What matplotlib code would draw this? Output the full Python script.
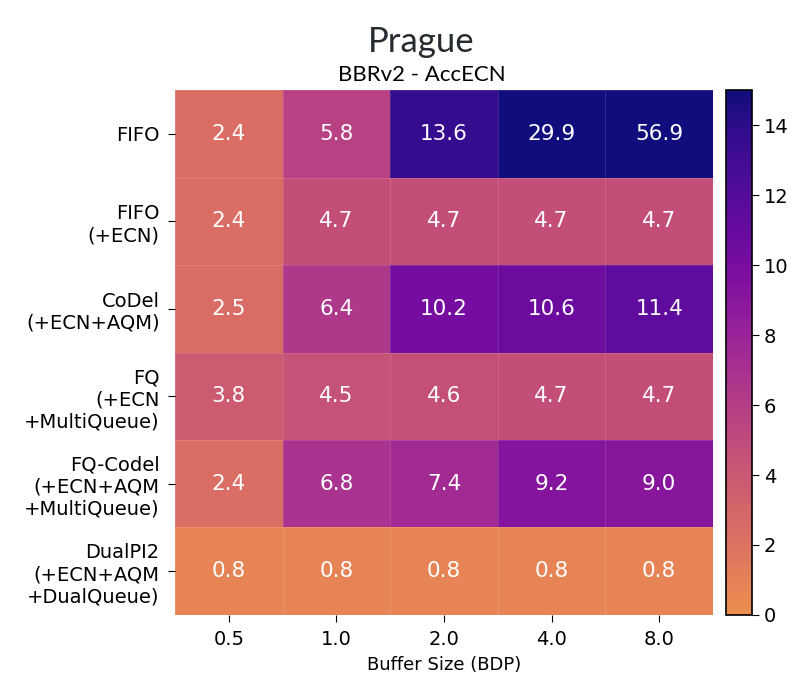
import numpy as np
import matplotlib
matplotlib.use('Agg')
import matplotlib.pyplot as plt
from matplotlib.colors import ListedColormap

plt.rcParams['font.family'] = 'DejaVu Sans'

# datos del heatmap
queues = ['FIFO', 'FIFO\n(+ECN)', 'CoDel\n(+ECN+AQM)', 'FQ\n(+ECN\n+MultiQueue)',
          'FQ-Codel\n(+ECN+AQM\n+MultiQueue)', 'DualPI2\n(+ECN+AQM\n+DualQueue)']
buffers = ['0.5', '1.0', '2.0', '4.0', '8.0']

fifo = [2.4, 5.8, 13.6, 29.9, 56.9]
fifo_ecn = [2.4, 4.7, 4.7, 4.7, 4.7]
codel = [2.5, 6.4, 10.2, 10.6, 11.4]
fq = [3.8, 4.5, 4.6, 4.7, 4.7]
fq_codel = [2.4, 6.8, 7.4, 9.2, 9.0]
dualpi2 = [0.8, 0.8, 0.8, 0.8, 0.8]

values = np.array([fifo, fifo_ecn, codel, fq, fq_codel, dualpi2])

# colormap: plasma recortado e invertido
base = plt.cm.plasma(np.linspace(0.0, 0.73, 256))[::-1]
gray = base[:, :3].mean(axis=1, keepdims=True)
base[:, :3] = base[:, :3] * 0.88 + gray * 0.12
cmap = ListedColormap(base)

fig = plt.figure(figsize=(7.97, 6.8), dpi=100)
ax = fig.add_axes([0.2196, 0.0956, 0.675, 0.772])
cax = fig.add_axes([0.911, 0.0956, 0.0326, 0.772])

mesh = ax.pcolormesh(values, cmap=cmap, vmin=0, vmax=15,
                     edgecolors=(1, 1, 1, 0.12), linewidth=0.6)
ax.set_xlim(0, len(buffers))
ax.set_ylim(len(queues), 0)

for i in range(len(queues)):
    for j in range(len(buffers)):
        ax.text(j + 0.5, i + 0.5, f'{values[i, j]:.1f}', ha='center', va='center',
                color='white', fontsize=15.5)

ax.set_xticks(np.arange(len(buffers)) + 0.5)
ax.set_xticklabels(buffers, fontsize=14)
ax.set_yticks(np.arange(len(queues)) + 0.5)
ax.set_yticklabels(queues, fontsize=14, ha='right')
ax.tick_params(length=5, pad=6)
ax.set_xlabel('Buffer Size (BDP)', fontsize=13, labelpad=5)
for s in ax.spines.values():
    s.set_visible(False)

cb = fig.colorbar(mesh, cax=cax)
cb.set_ticks(range(0, 15, 2))
cb.ax.tick_params(labelsize=14, length=5)
cb.outline.set_linewidth(1.2)

fig.text(0.529, 0.938, 'Prague', ha='center', va='center', fontsize=25,
         family='Lato', color='#262b30')
fig.text(0.529, 0.889, 'BBRv2 - AccECN', ha='center', va='center', fontsize=16,
         family='Lato', color='black')

plt.savefig('out.png', dpi=100)
